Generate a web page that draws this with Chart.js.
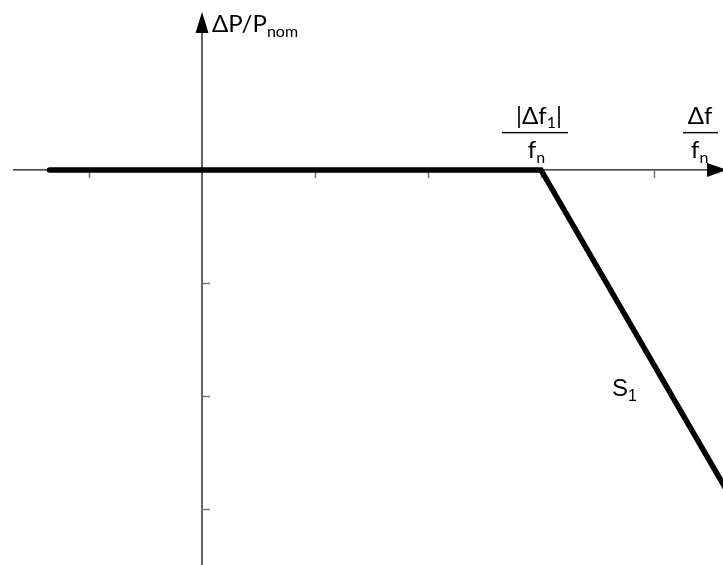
<!DOCTYPE html>
<html>
<head>
<meta charset="utf-8">
<script src="https://cdn.jsdelivr.net/npm/chart.js@4"></script>
<style>
  body { margin: 0; background: #fff; }
  #wrap { width: 723px; height: 565px; }
</style>
</head>
<body>
<div id="wrap"><canvas id="droop"></canvas></div>
<script>
// characteristic: flat up to |df1|/fn, then falling with slope S1
const curveX = [-1.35, 3, 5];
const curveY = [0, 0, -3.45];
const xTicks = [-1, 1, 2, 3, 4];
const yTicks = [-1, -2, -3];
const xRange = [-1.788, 4.611];
const yRange = [-3.496, 1.504];

const font = 'Lato, "Open Sans", sans-serif';

function sub(ctx, main, low, x, y, size, fam) {
    ctx.font = size + 'px ' + fam;
    ctx.fillText(main, x, y);
    const w = ctx.measureText(main).width;
    ctx.font = Math.round(size * 0.68) + 'px ' + fam;
    ctx.fillText(low, x + w, y + size * 0.2);
    return w + ctx.measureText(low).width;
}

const axesPlugin = {
    id: 'axes',
    beforeDatasetsDraw(chart) {
        const ctx = chart.ctx;
        const xs = chart.scales.x, ys = chart.scales.y;
        const x0 = xs.getPixelForValue(0), y0 = ys.getPixelForValue(0);
        ctx.save();
        ctx.strokeStyle = '#111';
        ctx.lineWidth = 1.3;
        ctx.beginPath();
        ctx.moveTo(13, y0); ctx.lineTo(710, y0);
        ctx.moveTo(x0, 30); ctx.lineTo(x0, chart.height);
        ctx.stroke();
        ctx.fillStyle = '#000';
        // arrow heads
        ctx.beginPath();
        ctx.moveTo(x0, 12); ctx.lineTo(x0 - 6.5, 33); ctx.lineTo(x0 + 6.5, 33); ctx.closePath();
        ctx.fill();
        ctx.beginPath();
        ctx.moveTo(727, y0); ctx.lineTo(707, y0 - 7); ctx.lineTo(707, y0 + 7); ctx.closePath();
        ctx.fill();
        // ticks
        ctx.strokeStyle = '#777';
        ctx.lineWidth = 1.5;
        ctx.beginPath();
        xTicks.forEach(v => {
            const p = Math.round(xs.getPixelForValue(v)) + 0.5;
            ctx.moveTo(p, y0); ctx.lineTo(p, y0 + 8);
        });
        yTicks.forEach(v => {
            const p = Math.round(ys.getPixelForValue(v)) + 0.5;
            ctx.moveTo(x0, p); ctx.lineTo(x0 + 8, p);
        });
        ctx.stroke();
        ctx.restore();
    },
    afterDraw(chart) {
        const ctx = chart.ctx;
        const xs = chart.scales.x, ys = chart.scales.y;
        const x0 = xs.getPixelForValue(0), y0 = ys.getPixelForValue(0);
        ctx.save();
        ctx.fillStyle = '#000';
        ctx.textBaseline = 'alphabetic';
        // y-axis title
        sub(ctx, 'ΔP/P', 'nom', x0 + 10, 32, 24, font);

        // fraction |Δf1| / fn at the knee
        const kx = xs.getPixelForValue(3);
        ctx.font = '24px ' + font;
        let w = ctx.measureText('|Δf').width;
        ctx.font = '16px ' + font;
        w += ctx.measureText('1').width;
        ctx.font = '24px ' + font;
        w += ctx.measureText('|').width;
        let sx = kx - w / 2 - 2;
        ctx.fillText('|Δf', sx, 124);
        sx += ctx.measureText('|Δf').width;
        ctx.font = '16px ' + font;
        ctx.fillText('1', sx, 128);
        sx += ctx.measureText('1').width;
        ctx.font = '24px ' + font;
        ctx.fillText('|', sx, 124);
        ctx.fillRect(kx - 39, y0 - 38, 66, 1.4);
        ctx.font = '24px ' + font;
        const fw = ctx.measureText('f').width + 10;
        sub(ctx, 'f', 'n', kx - fw / 2 - 4, 158, 24, font);

        // axis label Δf / fn
        const ax = 700;
        ctx.font = '24px ' + font;
        const dw = ctx.measureText('Δf').width;
        ctx.fillText('Δf', ax - dw / 2, 124);
        ctx.fillRect(ax - 17, y0 - 38, 35, 1.4);
        sub(ctx, 'f', 'n', ax - 9, 158, 24, font);

        // slope label
        sub(ctx, 'S', '1', 612, 396, 24, '"Liberation Sans", Arial, sans-serif');
        ctx.restore();
    }
};

new Chart(document.getElementById('droop'), {
    type: 'scatter',
    data: {
        datasets: [{
            data: curveX.map((x, i) => ({ x: x, y: curveY[i] })),
            showLine: true,
            borderColor: '#000',
            borderWidth: 5.5,
            borderCapStyle: 'round',
            borderJoinStyle: 'miter',
            pointRadius: 0,
            tension: 0
        }]
    },
    options: {
        responsive: true,
        maintainAspectRatio: false,
        animation: false,
        layout: { padding: 0 },
        plugins: { legend: { display: false }, tooltip: { enabled: false } },
        scales: {
            x: { type: 'linear', display: false, min: xRange[0], max: xRange[1] },
            y: { type: 'linear', display: false, min: yRange[0], max: yRange[1] }
        }
    },
    plugins: [axesPlugin]
});
</script>
</body>
</html>
